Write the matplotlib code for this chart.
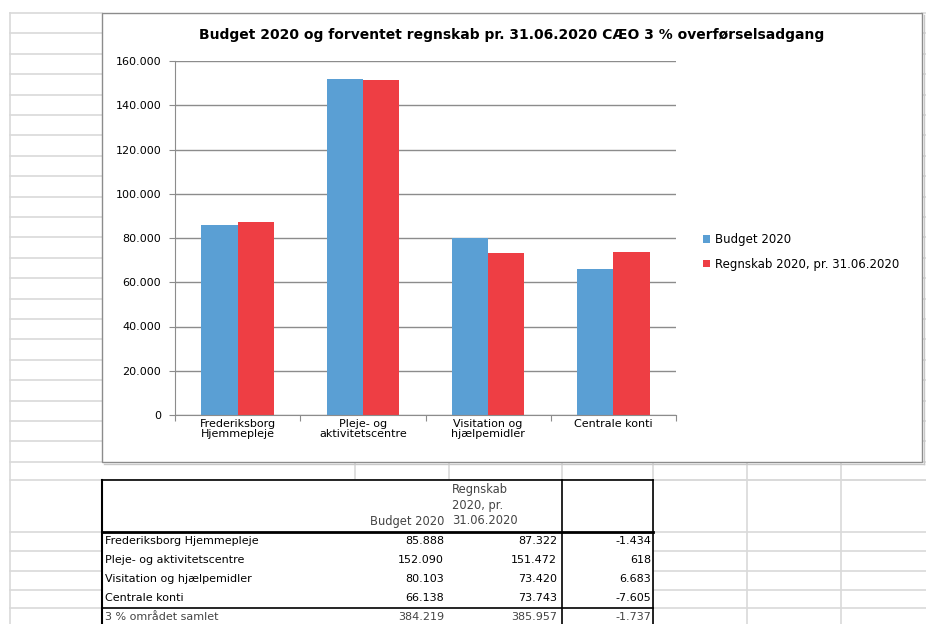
import matplotlib
matplotlib.use("Agg")
import matplotlib.pyplot as plt
import numpy as np
from matplotlib.patches import Rectangle
from matplotlib.ticker import FuncFormatter

title = "Budget 2020 og forventet regnskab pr. 31.06.2020 CÆO 3 % overførselsadgang"
categories = ["Frederiksborg\nHjemmepleje", "Pleje- og\naktivitetscentre",
              "Visitation og\nhjælpemidler", "Centrale konti"]
row_labels = ["Frederiksborg Hjemmepleje", "Pleje- og aktivitetscentre",
              "Visitation og hjælpemidler", "Centrale konti"]
series_names = ["Budget 2020", "Regnskab 2020, pr. 31.06.2020"]
budget = [85888, 152090, 80103, 66138]
regnskab = [87322, 151472, 73420, 73743]
diff = [-1434, 618, 6683, -7605]
total_label = "3 % området samlet"
total_budget = 384219
total_regnskab = 385957
total_diff = -1737
yticks = [0, 20000, 40000, 60000, 80000, 100000, 120000, 140000, 160000]

BLUE = "#5a9fd4"
RED = "#ee3e44"
GRID = "#d9d9d9"
AXGRAY = "#8c8c8c"
FONT = "DejaVu Sans"


def fmt(v):
    return f"{v:,.0f}".replace(",", ".")


W, H = 926, 624
fig = plt.figure(figsize=(W / 100, H / 100), dpi=100)
plt.rcParams['font.family'] = FONT

# regneark-baggrund i pixel-koordinater
bg = fig.add_axes([0, 0, 1, 1])
bg.set_xlim(0, W)
bg.set_ylim(H, 0)
bg.axis('off')

row_h = 20.4
rows_top = [13 + i * row_h for i in range(23)]
rows_low = [480, 532, 551, 571, 590, 608]

bg.plot([10, 10], [13, H], color=GRID, lw=1.2, zorder=1)
for y in rows_top + rows_low:
    bg.plot([10, 102], [y, y], color=GRID, lw=1.2, zorder=1)
for y in rows_top:
    bg.plot([922, W], [y, y], color=GRID, lw=1.2, zorder=1)
bg.plot([102, W], [480, 480], color=GRID, lw=1.2, zorder=1)
for y in rows_low:
    bg.plot([653, W], [y, y], color=GRID, lw=1.2, zorder=1)
for x in [355, 449, 562, 653, 747, 841]:
    bg.plot([x, x], [462, H], color=GRID, lw=1.2, zorder=1)

# diagramramme
bg.add_patch(Rectangle((102, 13), 820, 449, facecolor="white", edgecolor=AXGRAY, lw=1, zorder=2))
bg.plot([104, 923.5], [463.5, 463.5], color="#c8c8c8", lw=1, zorder=2)
bg.plot([923.5, 923.5], [15, 463.5], color="#c8c8c8", lw=1, zorder=2)
bg.text(512, 35, title, ha="center", va="center", fontsize=10, fontweight="bold", zorder=4)

# tabel
bg.add_patch(Rectangle((102, 480), 551, H - 480, facecolor="white", edgecolor="none", zorder=2))
bg.plot([102, 653], [480, 480], color="black", lw=1.2, zorder=3)
bg.plot([102, 102], [480, H], color="black", lw=1.5, zorder=3)
bg.plot([653, 653], [480, H], color="black", lw=1.2, zorder=3)
bg.plot([562, 562], [480, H], color="black", lw=1.2, zorder=3)
bg.plot([102, 653], [532, 532], color="black", lw=2, zorder=3)
bg.plot([102, 653], [608, 608], color="black", lw=1.2, zorder=3)

HEAD = "#444444"
bg.text(444, 521, series_names[0], ha="right", va="center", fontsize=8.3, color=HEAD, zorder=4)
bg.text(452, 505, "Regnskab\n2020, pr.\n31.06.2020", ha="left", va="center",
        fontsize=8.3, color=HEAD, linespacing=1.3, zorder=4)

row_y = [541, 560, 579, 598]
for lab, b, r, d, y in zip(row_labels, budget, regnskab, diff, row_y):
    bg.text(105, y, lab, ha="left", va="center", fontsize=8, zorder=4)
    bg.text(444, y, fmt(b), ha="right", va="center", fontsize=8, zorder=4)
    bg.text(557, y, fmt(r), ha="right", va="center", fontsize=8, zorder=4)
    bg.text(651, y, fmt(d), ha="right", va="center", fontsize=8, zorder=4)
bg.text(105, 617, total_label, ha="left", va="center", fontsize=8, color=HEAD, zorder=4)
bg.text(444, 617, fmt(total_budget), ha="right", va="center", fontsize=8, color=HEAD, zorder=4)
bg.text(557, 617, fmt(total_regnskab), ha="right", va="center", fontsize=8, color=HEAD, zorder=4)
bg.text(651, 617, fmt(total_diff), ha="right", va="center", fontsize=8, color=HEAD, zorder=4)

# soejlediagram
ax = fig.add_axes([175 / W, 1 - 415 / H, (676 - 175) / W, (415 - 61) / H])
ax.patch.set_alpha(0)
x = np.arange(len(categories))
w = 0.29
b1 = ax.bar(x - w / 2, budget, w, color=BLUE, label=series_names[0])
b2 = ax.bar(x + w / 2, regnskab, w, color=RED, label=series_names[1])
ax.set_xlim(-0.5, len(categories) - 0.5)
ax.set_ylim(0, 160000)
ax.set_yticks(yticks)
ax.yaxis.set_major_formatter(FuncFormatter(lambda v, p: fmt(v)))
ax.yaxis.grid(True, color=AXGRAY, lw=1)
ax.set_axisbelow(True)
for s in ["top", "right"]:
    ax.spines[s].set_visible(False)
for s in ["left", "bottom"]:
    ax.spines[s].set_color(AXGRAY)
ax.set_xticks(np.arange(-0.5, len(categories), 1))
ax.set_xticklabels([])
ax.set_xticks(x, minor=True)
ax.set_xticklabels(categories, minor=True, fontsize=8, linespacing=0.95)
ax.tick_params(axis="x", which="major", length=4, color=AXGRAY)
ax.tick_params(axis="x", which="minor", length=0, pad=3)
ax.tick_params(axis="y", length=4, color=AXGRAY, pad=6, labelsize=8)

fig.legend([b1, b2], series_names, loc="center left",
           bbox_to_anchor=(698 / W, 1 - 252 / H), frameon=False, fontsize=8.5,
           handlelength=0.6, handleheight=0.6, handletextpad=0.4, labelspacing=1.0,
           borderaxespad=0)

fig.savefig("out.png", dpi=100)
